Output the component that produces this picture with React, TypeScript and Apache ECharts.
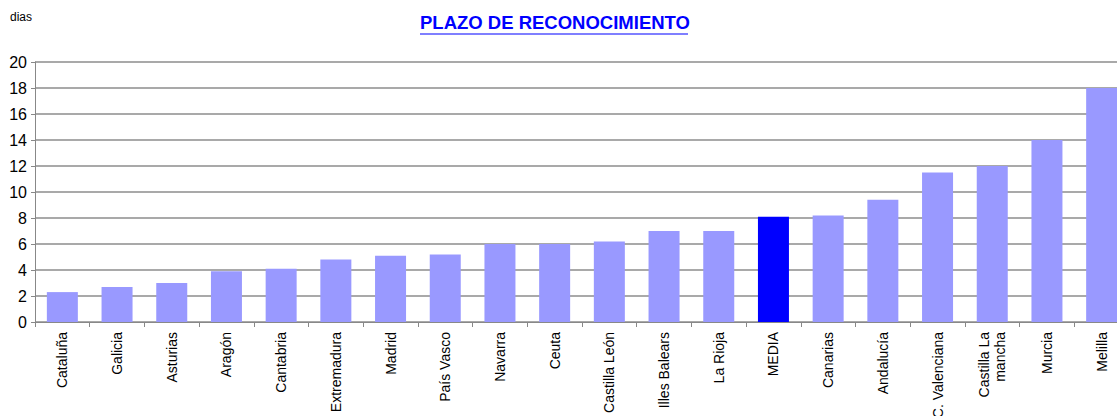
import React, { useEffect, useRef } from "react";
import * as echarts from "echarts";

const categories = [
  "Cataluña", "Galicia", "Asturias", "Aragón", "Cantabria", "Extremadura",
  "Madrid", "País Vasco", "Navarra", "Ceuta", "Castilla León", "Illes Balears",
  "La Rioja", "MEDIA", "Canarias", "Andalucía", "C. Valenciana",
  "Castilla La\nmancha", "Murcia", "Melilla",
];
const values = [2.3, 2.7, 3.0, 3.9, 4.1, 4.8, 5.1, 5.2, 6.0, 6.0, 6.2, 7.0, 7.0, 8.1, 8.2, 9.4, 11.5, 12.0, 14.0, 18.0];
const highlight = "MEDIA";
const yTicks = { min: 0, max: 20, interval: 2 };

const FONT = "'Liberation Sans Narrow', 'Arial Narrow', 'Liberation Sans', Arial, sans-serif";

export default function App() {
  const ref = useRef<HTMLDivElement>(null);
  useEffect(() => {
    if (!ref.current) return;
    const chart = echarts.init(ref.current, null, { renderer: "svg" });
    chart.setOption({
      animation: false,
      backgroundColor: "#fff",
      grid: { left: 35, right: 0, top: 62, bottom: 94, containLabel: false, outerBoundsMode: "none" },
      graphic: [
        {
          type: "text", left: 420, top: 13,
          style: { text: "PLAZO DE RECONOCIMIENTO", fill: "#0000FF", font: `bold 18.5px ${FONT}` },
        },
        {
          type: "line", shape: { x1: 420, y1: 34, x2: 688, y2: 34 },
          style: { stroke: "#0000FF", lineWidth: 1.2 },
        },
        {
          type: "text", left: 10, top: 11,
          style: { text: "dias", fill: "#000", font: `12px ${FONT}` },
        },
      ],
      xAxis: {
        type: "category",
        data: categories,
        axisLine: { lineStyle: { color: "#888", width: 1 } },
        axisTick: { show: true, alignWithLabel: false, length: 5, lineStyle: { color: "#888" } },
        axisLabel: { rotate: 90, interval: 0, color: "#000", fontFamily: FONT, fontSize: 14, margin: 10, lineHeight: 16 },
      },
      yAxis: {
        type: "value",
        min: yTicks.min, max: yTicks.max, interval: yTicks.interval,
        axisLine: { show: true, lineStyle: { color: "#888", width: 1 } },
        axisTick: { show: true, length: 4, lineStyle: { color: "#888" } },
        axisLabel: { color: "#000", fontFamily: FONT, fontSize: 16, margin: 8 },
        splitLine: { lineStyle: { color: "#8c8c8c", width: 1.5 } },
      },
      series: [
        {
          type: "bar",
          barWidth: 31,
          data: values.map((v, i) => ({
            value: v,
            itemStyle: { color: categories[i] === highlight ? "#0000FF" : "#9999FF" },
          })),
        },
      ],
    });
    return () => chart.dispose();
  }, []);
  return (
    <div style={{ position: "absolute", left: 0, top: 0, width: 1117, height: 416, overflow: "hidden" }}>
      <div ref={ref} style={{ width: 1129, height: 416 }} />
    </div>
  );
}
